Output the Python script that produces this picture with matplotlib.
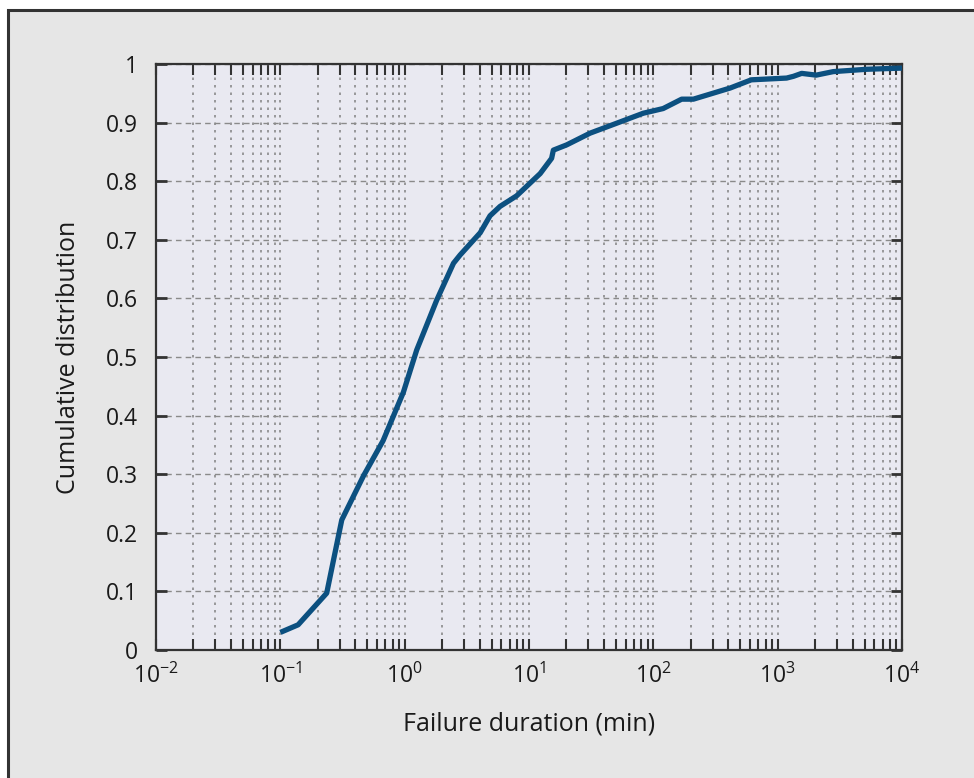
import numpy as np
import matplotlib
matplotlib.use("Agg")
import matplotlib.pyplot as plt
from matplotlib.patches import Rectangle
from matplotlib.ticker import LogLocator, FixedLocator, NullFormatter

plt.rcParams['font.family'] = ['Open Sans', 'DejaVu Sans']
plt.rcParams['mathtext.fontset'] = 'custom'
plt.rcParams['mathtext.rm'] = 'Open Sans'
plt.rcParams['mathtext.it'] = 'Open Sans'

# failure duration (min) vs. cumulative fraction
duration = [0.1, 0.139, 0.236, 0.312, 0.466, 0.67, 0.977, 1.25, 1.81, 2.47,
            2.79, 4.05, 4.86, 5.85, 7.95, 10.0, 12.3, 15.2, 15.7, 20.1, 31.0,
            50.8, 83.0, 120.0, 169.0, 210.0, 415.0, 614.0, 1180.0, 1340.0,
            1560.0, 2040.0, 2800.0, 5200.0, 10000.0]
cdf = [0.03, 0.043, 0.097, 0.222, 0.297, 0.357, 0.44, 0.512, 0.597, 0.66,
       0.674, 0.712, 0.741, 0.757, 0.775, 0.795, 0.813, 0.839, 0.853, 0.862,
       0.882, 0.899, 0.916, 0.924, 0.94, 0.94, 0.959, 0.973, 0.976, 0.979,
       0.984, 0.981, 0.987, 0.991, 0.993]

xtick_vals = [1e-2, 1e-1, 1e0, 1e1, 1e2, 1e3, 1e4]
xtick_labels = [r'$10^{-2}$', r'$10^{-1}$', r'$10^{0}$', r'$10^{1}$',
                r'$10^{2}$', r'$10^{3}$', r'$10^{4}$']
ytick_vals = [0, 0.1, 0.2, 0.3, 0.4, 0.5, 0.6, 0.7, 0.8, 0.9, 1]
ytick_labels = ['0', '0.1', '0.2', '0.3', '0.4', '0.5', '0.6', '0.7', '0.8', '0.9', '1']

fig = plt.figure(figsize=(9.74, 7.78), dpi=100, facecolor='white')

# grey panel with a dark rule on the top and left
fig.patches.append(Rectangle((8 / 974, -0.05), 1.1, 1.05 - 10 / 778,
                             transform=fig.transFigure, facecolor='#e6e6e6',
                             edgecolor='#333333', lw=2.2, zorder=-10))

ax = fig.add_axes([156 / 974, 128 / 778, 746 / 974, 586 / 778])
ax.set_facecolor('#e9e9f1')

ax.plot(duration, cdf, color='#0c5080', lw=3.8, solid_joinstyle='round',
        solid_capstyle='butt', zorder=3)

ax.set_xscale('log')
ax.set_xlim(1e-2, 1e4)
ax.set_ylim(0, 1)

ax.xaxis.set_major_locator(FixedLocator(xtick_vals))
ax.set_xticks(xtick_vals)
ax.set_xticklabels(xtick_labels)
ax.xaxis.set_minor_locator(LogLocator(base=10, subs=np.arange(2, 10), numticks=20))
ax.xaxis.set_minor_formatter(NullFormatter())
ax.set_yticks(ytick_vals)
ax.set_yticklabels(ytick_labels)

ax.tick_params(axis='both', which='both', direction='in', color='#333333',
               labelsize=16.5, labelcolor='#1a1a1a')
ax.tick_params(axis='x', which='both', top=True, bottom=True, length=8, width=1.5, pad=10)
ax.tick_params(axis='y', which='major', left=True, right=True, length=8, width=2, pad=13)

ax.grid(True, axis='y', which='major', linestyle=(0, (4, 3)), color='#8a8a8a', lw=1)
ax.grid(True, axis='x', which='both', linestyle=(0, (1.5, 3)), color='#8a8a8a', lw=1.2)

for sp in ax.spines.values():
    sp.set_color('#333333')
    sp.set_linewidth(1.6)

ax.set_xlabel('Failure duration (min)', fontsize=18, color='#1a1a1a', labelpad=16)
ax.set_ylabel('Cumulative distribution', fontsize=18, color='#1a1a1a', labelpad=18)

fig.savefig('out.png', dpi=100)
